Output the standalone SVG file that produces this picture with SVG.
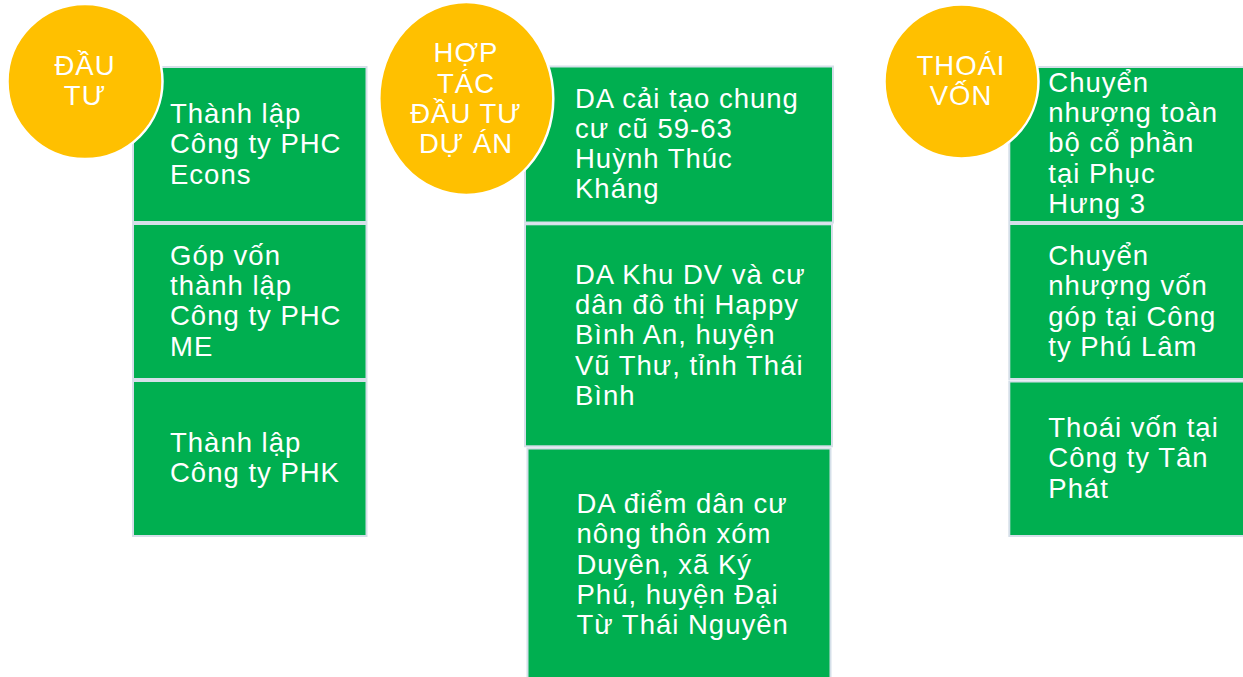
<svg xmlns="http://www.w3.org/2000/svg" width="1243" height="677" viewBox="0 0 1243 677">
<style>
.box{fill:#00AF50;stroke:#D5DFE9;stroke-width:2}
.circ{fill:#FFC000;stroke:#FFFFFF;stroke-width:2.5}
text{font-family:"Liberation Sans",Arial,sans-serif;font-size:27.5px;fill:#FFFFFF;letter-spacing:1px}
.c{text-anchor:middle}
</style>
<rect width="1243" height="677" fill="#FFFFFF"/>
<g id="connectors"></g>
<g id="col1-box1"><rect class="box" x="133" y="67" width="233.5" height="155"/>
<text x="170"><tspan x="170" y="122.7">Thành lập</tspan><tspan x="170" y="153.2">Công ty PHC</tspan><tspan x="170" y="183.5">Econs</tspan></text></g>
<g id="col1-box2"><rect class="box" x="133" y="224" width="233.5" height="155"/>
<text><tspan x="170" y="264.5">Góp vốn</tspan><tspan x="170" y="295">thành lập</tspan><tspan x="170" y="325.3">Công ty PHC</tspan><tspan x="170" y="355.5">ME</tspan></text></g>
<g id="col1-box3"><rect class="box" x="133" y="381" width="233.5" height="155"/>
<text><tspan x="170" y="451.7">Thành lập</tspan><tspan x="170" y="481.9">Công ty PHK</tspan></text></g>
<g id="circle1"><circle class="circ" cx="85" cy="81.5" r="77.5"/>
<text class="c"><tspan x="85" y="74.5">ĐẦU</tspan><tspan x="85" y="104.5">TƯ</tspan></text></g>
<g id="col2-box1"><rect class="box" x="525" y="66.5" width="308" height="156"/>
<text><tspan x="575" y="107.5">DA cải tạo chung</tspan><tspan x="575" y="137.8">cư cũ 59-63</tspan><tspan x="575" y="168">Huỳnh Thúc</tspan><tspan x="575" y="198.3">Kháng</tspan></text></g>
<g id="col2-box2"><rect class="box" x="525" y="224.3" width="307" height="222"/>
<text><tspan x="575" y="283.5">DA Khu DV và cư</tspan><tspan x="575" y="314">dân đô thị Happy</tspan><tspan x="575" y="344.3">Bình An, huyện</tspan><tspan x="575" y="374.8">Vũ Thư, tỉnh Thái</tspan><tspan x="575" y="404.5">Bình</tspan></text></g>
<g id="col2-box3"><rect class="box" x="527.5" y="448.5" width="303" height="240"/>
<text><tspan x="576.5" y="512.8">DA điểm dân cư</tspan><tspan x="576.5" y="543.3">nông thôn xóm</tspan><tspan x="576.5" y="573.5">Duyên, xã Ký</tspan><tspan x="576.5" y="604">Phú, huyện Đại</tspan><tspan x="576.5" y="634.2">Từ Thái Nguyên</tspan></text></g>
<g id="circle2"><ellipse class="circ" cx="466.3" cy="98.5" rx="87" ry="96.5"/>
<text class="c"><tspan x="466" y="61.8">HỢP</tspan><tspan x="466" y="92.7">TÁC</tspan><tspan x="466" y="122.7">ĐẦU TƯ</tspan><tspan x="466" y="152.7">DỰ ÁN</tspan></text></g>
<g id="col3-box1"><rect class="box" x="1009.3" y="67" width="240" height="155"/>
<text><tspan x="1048.3" y="91.7">Chuyển</tspan><tspan x="1048.3" y="121.8">nhượng toàn</tspan><tspan x="1048.3" y="151.9">bộ cổ phần</tspan><tspan x="1048.3" y="182.5">tại Phục</tspan><tspan x="1048.3" y="212.8">Hưng 3</tspan></text></g>
<g id="col3-box2"><rect class="box" x="1009.3" y="224" width="240" height="155"/>
<text><tspan x="1048.3" y="265">Chuyển</tspan><tspan x="1048.3" y="295.2">nhượng vốn</tspan><tspan x="1048.3" y="325.8">góp tại Công</tspan><tspan x="1048.3" y="355.5">ty Phú Lâm</tspan></text></g>
<g id="col3-box3"><rect class="box" x="1009.3" y="381.5" width="240" height="154.5"/>
<text><tspan x="1048.3" y="436.8">Thoái vốn tại</tspan><tspan x="1048.3" y="467">Công ty Tân</tspan><tspan x="1048.3" y="497.5">Phát</tspan></text></g>
<g id="circle3"><circle class="circ" cx="961.5" cy="81.5" r="77"/>
<text class="c"><tspan x="961" y="75.2">THOÁI</tspan><tspan x="961" y="105.2">VỐN</tspan></text></g>
</svg>
